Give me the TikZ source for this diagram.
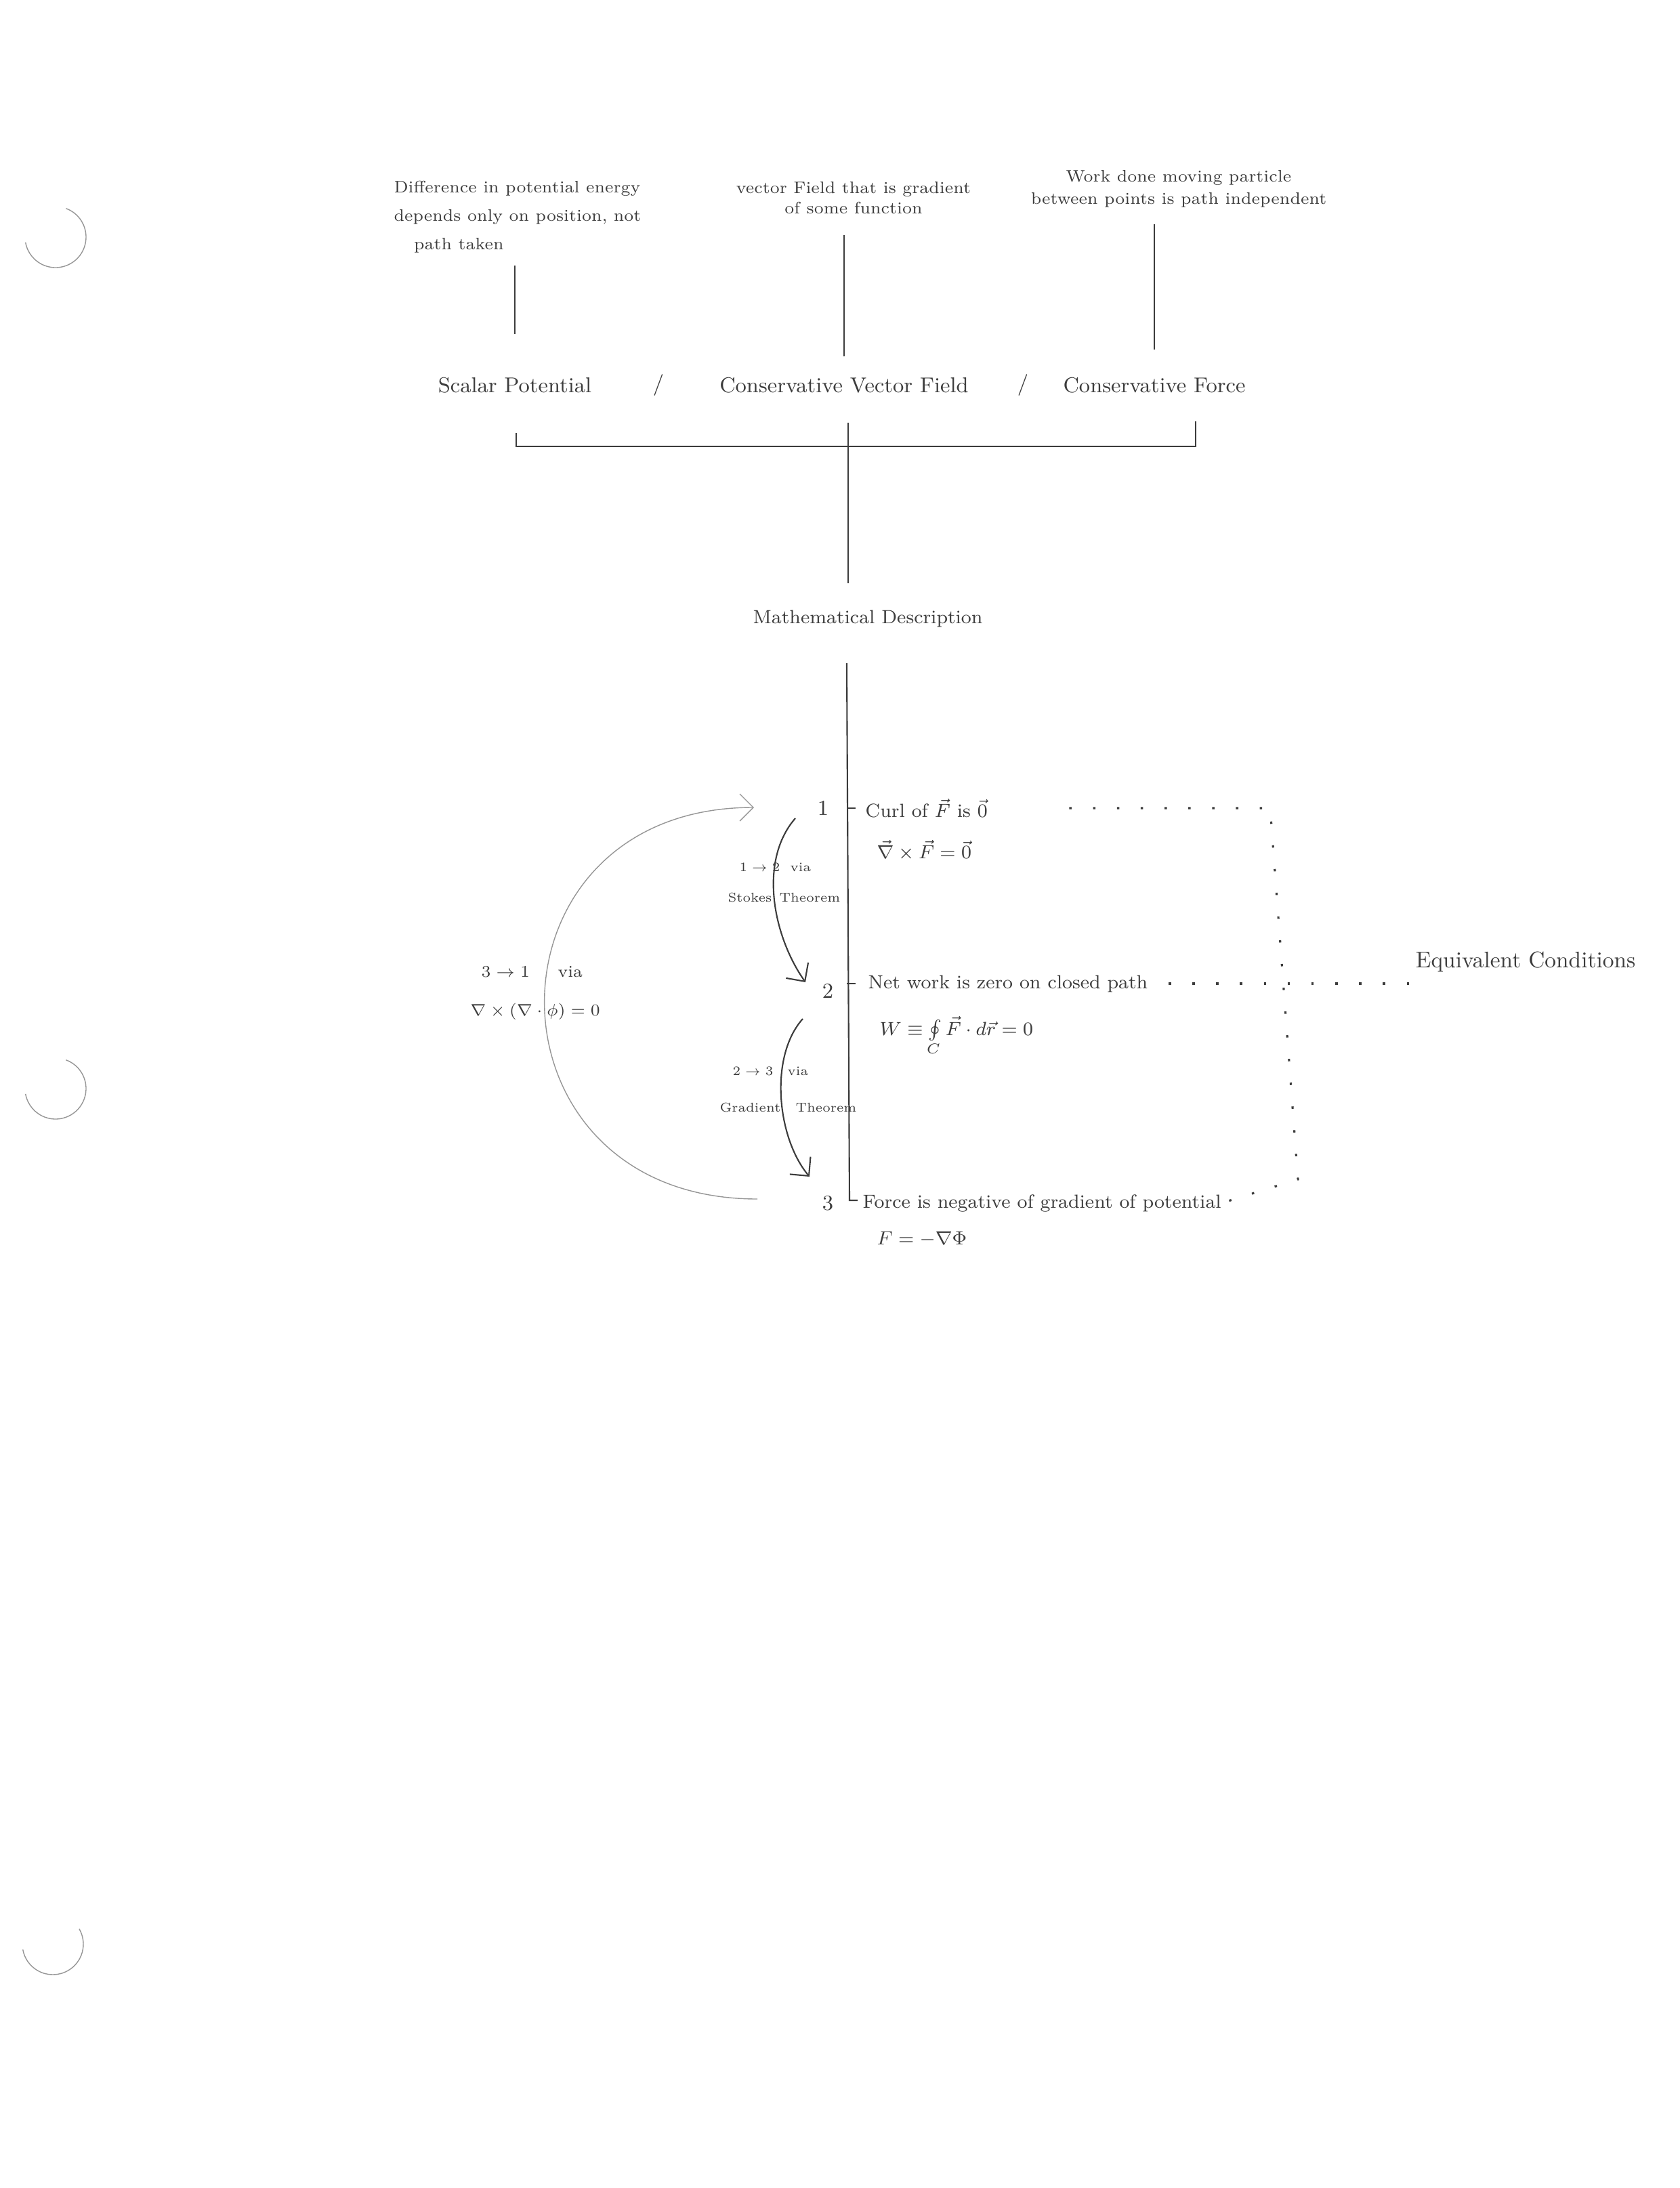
\documentclass[tikz,border=0pt]{standalone}
\usepackage{amsmath}
\usepackage{tikz}
\usetikzlibrary{arrows.meta, positioning, calc}
\definecolor{pencil}{RGB}{60,60,60}
\definecolor{pencillight}{RGB}{150,150,150}

\begin{document}
\begin{tikzpicture}[
    note/.style={
        font=\fontsize{7}{12}\selectfont, text=pencil, inner sep=1pt
    },
    term/.style={
        font=\fontsize{9}{11}\selectfont, text=pencil, inner sep=1pt
    },
    cond/.style={
        font=\fontsize{8}{10}\selectfont, text=pencil,
        anchor=west, inner sep=0pt
    },
    via/.style={
        font=\fontsize{6}{7}\selectfont, text=pencil,
        inner sep=0pt, scale=0.9
    },
    stem/.style={pencil, semithick},
    arrow/.style={
        -{Straight Barb[length=2mm]}, pencil, semithick
    },
    dots/.style={
        pencil, line width=0.9pt, dash pattern=on 1pt off 9pt
    }
]

\useasboundingbox (0,0) rectangle (24.8,-32.3);

% binder holes of the sheet
\draw[pencillight] (0.82,-3.50) ++(70:0.45) arc[start angle=70, end angle=-170, radius=0.45];
\draw[pencillight] (0.82,-16.07) ++(70:0.45) arc[start angle=70, end angle=-170, radius=0.45];
\draw[pencillight] (0.78,-28.70) ++(30:0.45) arc[start angle=30, end angle=-170, radius=0.45];

% definitions
\node[note, align=left] (diff) at (7.64,-3.20)
    {Difference in potential energy\\depends only on position, not\\\hspace{1.2em}path taken};
\node[note, align=center, font=\fontsize{7}{8.5}\selectfont] (grad) at (12.60,-2.92)
    {vector Field that is gradient\\of some function};
\node[note, align=center, font=\fontsize{7}{9.5}\selectfont] (work) at (17.40,-2.79)
    {Work done moving particle\\between points is path independent};

% names
\node[term] (sp) at (7.60,-5.69) {Scalar Potential};
\node[term] (sl1) at (9.72,-5.69) {/};
\node[term] (cvf) at (12.46,-5.69) {Conservative Vector Field};
\node[term] (sl2) at (15.10,-5.69) {/};
\node[term] (cf) at (17.04,-5.69) {Conservative Force};

\draw[stem, shorten <=6mm, shorten >=1.5mm] (sp.north) -- (sp.north |- diff.south);
\draw[stem, shorten <=2.7mm, shorten >=2.7mm] (cvf.north) -- (cvf.north |- grad.south);
\draw[stem, shorten <=3.7mm, shorten >=2mm] (cf.north) -- (cf.north |- work.south);

% bracket
\coordinate (brL) at (7.62,-6.39);
\coordinate (brR) at (17.65,-6.22);
\coordinate (brM) at (12.52,-6.24);
\draw[stem] (brL) -- ++(0,-0.2) -| (brR);

\node[term, font=\fontsize{8}{10}\selectfont] (mdesc) at (12.81,-9.13) {Mathematical Description};
\draw[stem, shorten >=3.5mm] (brM) -- (brM |- mdesc.north);

% spine with the three conditions
\coordinate (sTop) at (12.50,-9.79);
\coordinate (sBot) at (12.54,-17.72);
\draw[stem] (sTop) -- (sBot) -- ++(0.12,0);

\node[term] (n1) at (12.15,-11.93) {1};
\node[term] (n2) at (12.22,-14.63) {2};
\node[term] (n3) at (12.22,-17.76) {3};

\node[cond] (c1) at (12.77,-11.93) {Curl of $\vec{F}$ is $\vec{0}$};
\node[cond] (f1) at (12.94,-12.55) {$\vec{\nabla}\times\vec{F} = \vec{0}$};
\node[cond] (c2) at (12.81,-14.52) {Net work is zero on closed path};
\node[cond] (f2) at (12.98,-15.30) {$W \equiv \oint\limits_{C} \vec{F}\cdot d\vec{r} = 0$};
\node[cond] (c3) at (12.73,-17.76) {Force is negative of gradient of potential};
\node[cond] (f3) at (12.94,-18.29) {$F = -\nabla\Phi$};

\draw[stem] (c1.west -| sTop) -- ++(0.13,0);
\draw[stem] (c2.west -| sTop) -- ++(0.13,0);

% equivalence
\node[term, font=\fontsize{9.5}{11}\selectfont] (eq) at (22.52,-14.20) {Equivalent Conditions};
\coordinate (d1R) at (18.75,-11.80);
\coordinate (d3R) at (19.16,-17.41);
\draw[dots, shorten <=12mm] (c1.east) -- (c1.east -| d1R) -- (d3R) -- (c3.east);
\draw[dots, shorten <=3mm] (c2.east) -- (c2.east -| eq.west);

% implications
\coordinate (a12s) at (11.74,-12.08);
\coordinate (a12e) at (11.89,-14.50);
\coordinate (a23s) at (11.85,-15.04);
\coordinate (a23e) at (11.95,-17.37);
\coordinate (a31s) at (11.18,-17.70);
\coordinate (a31e) at (11.13,-11.92);

\draw[arrow] (a12s) .. controls (11.20,-12.70) and (11.40,-13.80) .. (a12e);
\draw[arrow] (a23s) .. controls (11.35,-15.60) and (11.47,-16.80) .. (a23e);
\draw[arrow, pencillight, thin] (a31s) .. controls (7.0,-17.70) and (7.0,-11.92) .. (a31e);

\node[via, anchor=east] (v12) at (11.52,-12.80) {$1 \to 2$};
\node[via, anchor=west] (v12a) at (11.66,-12.80) {via};
\node[via, anchor=east] (v12b) at (11.40,-13.25) {Stokes};
\node[via, anchor=west] (v12c) at (11.50,-13.25) {Theorem};
\node[via, anchor=east] (v23) at (11.42,-15.81) {$2 \to 3$};
\node[via, anchor=west] (v23a) at (11.62,-15.81) {via};
\node[via, anchor=east] (v23b) at (11.53,-16.35) {Gradient};
\node[via, anchor=west] (v23c) at (11.74,-16.35) {Theorem};
\node[via, font=\fontsize{7}{9}\selectfont, scale=1.1, anchor=west] (v31) at (7.10,-14.35) {$3 \to 1$};
\node[via, font=\fontsize{7}{9}\selectfont, scale=1.1, anchor=west] (v31a) at (8.23,-14.35) {via};
\node[via, font=\fontsize{7}{9}\selectfont, scale=1.1] (v31b) at (7.90,-14.93) {$\nabla\times(\nabla\cdot\phi) = 0$};

\end{tikzpicture}
\end{document}
